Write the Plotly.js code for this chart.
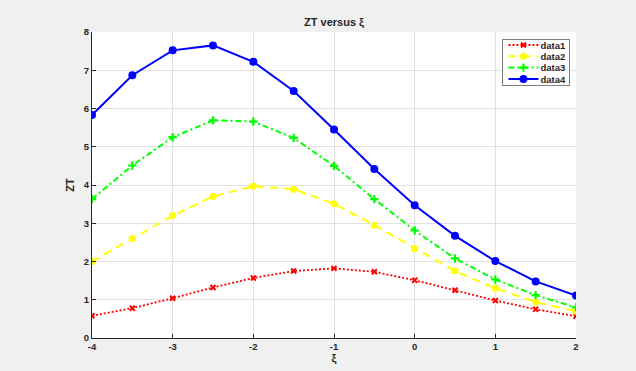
<!DOCTYPE html>
<html>
<head>
<meta charset="utf-8">
<script src="https://cdn.plot.ly/plotly-3.0.1.min.js"></script>
<style>html,body{margin:0;padding:0;background:#f0f0f0;}#chart{width:636px;height:371px;}</style>
</head>
<body>
<div id="chart"></div>
<script>
var xi = [-4, -3.5, -3, -2.5, -2, -1.5, -1, -0.5, 0, 0.5, 1, 1.5, 2];
var data1 = [0.58, 0.78, 1.04, 1.32, 1.57, 1.75, 1.82, 1.73, 1.51, 1.25, 0.98, 0.75, 0.57];
var data2 = [2.00, 2.60, 3.20, 3.70, 3.97, 3.89, 3.51, 2.95, 2.34, 1.75, 1.30, 0.94, 0.70];
var data3 = [3.63, 4.51, 5.25, 5.69, 5.66, 5.23, 4.50, 3.63, 2.81, 2.08, 1.53, 1.12, 0.80];
var data4 = [5.83, 6.87, 7.52, 7.65, 7.22, 6.46, 5.45, 4.42, 3.47, 2.67, 2.01, 1.48, 1.11];
var names = ['data1', 'data2', 'data3', 'data4'];
var xTicks = [-4, -3, -2, -1, 0, 1, 2];
var yTicks = [0, 1, 2, 3, 4, 5, 6, 7, 8];

var traces = [
  {x: xi, y: data1, name: names[0], mode: 'lines+markers', type: 'scatter',
   line: {color: '#ff0000', width: 1.8, dash: '2px,2px'},
   marker: {symbol: 'x-thin', size: 5, color: '#ff0000', line: {color: '#ff0000', width: 2}}},
  {x: xi, y: data2, name: names[1], mode: 'lines+markers', type: 'scatter',
   line: {color: '#ffff00', width: 2, dash: '8px,6px'},
   marker: {symbol: 'circle', size: 7, color: '#ffff00'}},
  {x: xi, y: data3, name: names[2], mode: 'lines+markers', type: 'scatter',
   line: {color: '#00ff00', width: 2, dash: '6px,3px,2px,3px'},
   marker: {symbol: 'cross-thin', size: 6, color: '#00ff00', line: {color: '#00ff00', width: 2.2}}},
  {x: xi, y: data4, name: names[3], mode: 'lines+markers', type: 'scatter',
   line: {color: '#0000ff', width: 2},
   marker: {symbol: 'circle', size: 8, color: '#0000ff'}}
];

var fam = 'Liberation Sans, Arial, sans-serif';
var tickFont = {family: fam, size: 9.5, color: '#262626', weight: 'bold'};
var layout = {
  width: 636, height: 371,
  paper_bgcolor: '#f0f0f0', plot_bgcolor: '#ffffff',
  margin: {l: 92, r: 60, t: 32, b: 33},
  title: {text: '<b>ZT versus ξ</b>', font: {family: fam, size: 11, color: '#262626'},
          x: 0.5, xref: 'paper', y: 1, yref: 'paper', yanchor: 'bottom', pad: {b: 6}},
  xaxis: {range: [-4, 2], tickvals: xTicks, ticktext: xTicks.map(String),
          showgrid: true, gridcolor: '#e0e0e0', zeroline: false,
          showline: true, linecolor: '#262626', linewidth: 1, mirror: false,
          ticks: 'inside', ticklen: 4, tickcolor: '#262626', tickfont: tickFont,
          title: {text: '<b>ξ</b>', font: {family: fam, size: 11, color: '#262626'}, standoff: 2}},
  yaxis: {range: [0, 8], tickvals: yTicks, ticktext: yTicks.map(String),
          showgrid: true, gridcolor: '#e0e0e0', zeroline: false,
          showline: true, linecolor: '#262626', linewidth: 1, mirror: false,
          ticks: 'inside', ticklen: 4, tickcolor: '#262626', tickfont: tickFont,
          title: {text: '<b>ZT</b>', font: {family: fam, size: 11, color: '#262626'}, standoff: 6}},
  showlegend: true,
  legend: {x: 0.9855, xanchor: 'right', y: 0.977, yanchor: 'top',
           bgcolor: '#ffffff', bordercolor: '#7f7f7f', borderwidth: 1,
           font: {family: fam, size: 9.5, color: '#262626', weight: 'bold'},
           itemwidth: 30, tracegroupgap: 0}
};
Plotly.newPlot('chart', traces, layout, {displayModeBar: false, staticPlot: true}).then(function (gd) {
  // compact the legend (Plotly enforces a 19px minimum row height)
  var leg = gd.querySelector('.legend');
  if (!leg) return;
  var items = leg.querySelectorAll('.traces');
  var rowH = 11.3, top = 6.5, bottom = 6.5;
  var maxTextRight = 0, symLeft = Infinity;
  items.forEach(function (el, i) {
    var m = /translate\(([-\d.]+)/.exec(el.getAttribute('transform') || '');
    var tx = m ? parseFloat(m[1]) : 0;
    el.setAttribute('transform', 'translate(' + tx + ',' + (top + i * rowH) + ')');
  });
  var bg = leg.querySelector('rect.bg');
  var bgRect = bg.getBoundingClientRect();
  items.forEach(function (el) {
    var line = el.querySelector('.legendlines path');
    var txt = el.querySelector('text.legendtext');
    if (!line || !txt) return;
    var lr = line.getBoundingClientRect();
    var trc = txt.getBoundingClientRect();
    var shift = (lr.right + 2) - trc.left;
    txt.setAttribute('x', parseFloat(txt.getAttribute('x') || 0) + shift);
    var t2 = txt.getBoundingClientRect();
    maxTextRight = Math.max(maxTextRight, t2.right);
    symLeft = Math.min(symLeft, lr.left);
  });
  var newW = (maxTextRight - bgRect.left) + 3;
  bg.setAttribute('width', newW);
  var h = top + (items.length - 1) * rowH + bottom;
  bg.setAttribute('height', h);
  // place the box: right edge at 569px
  var m2 = /translate\(([-\d.]+)[ ,]+([-\d.]+)/.exec(leg.getAttribute('transform') || '');
  if (m2) {
    var lx = parseFloat(m2[1]), ly = parseFloat(m2[2]);
    var gdRect = gd.getBoundingClientRect();
    var curRight = bgRect.left - gdRect.left + newW;
    lx += 569 - curRight;
    ly += 39 - (bgRect.top - gdRect.top);
    leg.setAttribute('transform', 'translate(' + lx + ',' + ly + ')');
  }
});
</script>
</body>
</html>
